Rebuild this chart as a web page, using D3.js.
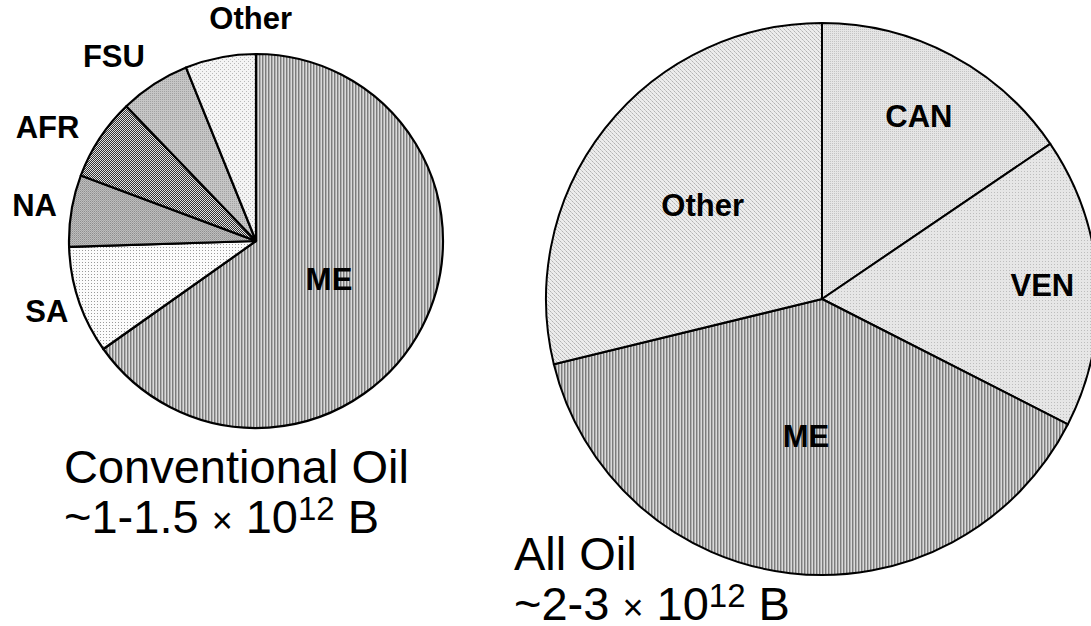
<!DOCTYPE html>
<html>
<head>
<meta charset="utf-8">
<script src="https://cdn.jsdelivr.net/npm/d3@7"></script>
<style>
  body { margin: 0; background: #fff; }
  svg { display: block; }
  .lbl { font-family: "Liberation Sans", Arial, sans-serif; font-weight: bold; font-size: 31px; fill: #000; }
  .title { font-family: "Liberation Sans", Arial, sans-serif; font-size: 47px; fill: #000; }
</style>
</head>
<body>
<div id="container"></div>
<script>
(function(){
// conventional oil reserves, share by region (%)
var convRegions = ["ME", "SA", "NA", "AFR", "FSU", "Other"];
var convShares = [65.2, 9.3, 6.2, 7.1, 6.1, 6.1];
var convTitle = ["Conventional Oil", "~1-1.5 ", "\u00d7", " 10", "12", " B"];

// all oil (incl. heavy oil / tar sands), share by region (%)
var allRegions = ["CAN", "VEN", "ME", "Other"];
var allShares = [15.5, 17.0, 38.7, 28.8];
var allTitle = ["All Oil", "~2-3 ", "\u00d7", " 10", "12", " B"];

var width = 1091, height = 626;

var svg = d3.select("#container")
    .append("svg")
    .attr("width", width)
    .attr("height", height);

svg.append("rect").attr("width", width).attr("height", height).attr("fill", "#fff");

//fill patterns, mimic the old office hatch fills
var defs = svg.append("defs");

function makePattern(id, w, h, bg, cells){
    var p = defs.append("pattern")
        .attr("id", id)
        .attr("patternUnits", "userSpaceOnUse")
        .attr("width", w)
        .attr("height", h);
    p.append("rect").attr("width", w).attr("height", h).attr("fill", bg);
    cells.forEach(function(c){
        p.append("rect")
            .attr("x", c[0]).attr("y", c[1])
            .attr("width", c[2]).attr("height", c[3])
            .attr("fill", c[4]);
    });
}

makePattern("stripes", 3, 3, "#dadada", [[0, 0, 1, 3, "#7c7c7c"], [1, 0, 1, 3, "#b0b0b0"]]);
makePattern("dotsLight", 3, 3, "#fbfbfb", [[0, 0, 1, 1, "#9a9a9a"]]);
makePattern("grayFine", 2, 2, "#bdbdbd", [[0, 0, 1, 1, "#8e8e8e"], [1, 1, 1, 1, "#a4a4a4"]]);
makePattern("checker", 2, 2, "#e2e2e2", [[0, 0, 1, 1, "#333"], [1, 1, 1, 1, "#333"]]);
makePattern("grayMid", 2, 2, "#c6c6c6", [[0, 0, 1, 1, "#a2a2a2"]]);
makePattern("diagLight", 4, 4, "#f4f4f4", [[0, 0, 1, 1, "#b8b8b8"], [2, 2, 1, 1, "#b8b8b8"]]);
makePattern("canFill", 2, 2, "#e6e6e6", [[0, 0, 1, 1, "#c4c4c4"]]);
makePattern("venFill", 3, 3, "#e6e6e6", [[1, 1, 1, 1, "#bdbdbd"]]);
makePattern("diagHatch", 4, 4, "#ececec", [[0, 0, 1, 1, "#b2b2b2"], [1, 1, 1, 1, "#c8c8c8"], [2, 2, 1, 1, "#b2b2b2"], [3, 3, 1, 1, "#c8c8c8"]]);

var convFills = d3.scaleOrdinal()
    .domain(convRegions)
    .range(["url(#stripes)", "url(#dotsLight)", "url(#grayFine)", "url(#checker)", "url(#grayMid)", "url(#diagLight)"]);

var allFills = d3.scaleOrdinal()
    .domain(allRegions)
    .range(["url(#canFill)", "url(#venFill)", "url(#stripes)", "url(#diagHatch)"]);

//function to draw one pie with its labels
function drawPie(regions, shares, fills, cx, cy, r, strokeW, labelK, nudge){
    var rows = regions.map(function(name, i){ return {name: name, value: shares[i]}; });

    var pie = d3.pie()
        .sort(null)
        .value(function(d){ return d.value; });

    var arc = d3.arc().innerRadius(0).outerRadius(r);

    var g = svg.append("g")
        .attr("transform", "translate(" + cx + "," + cy + ")");

    g.selectAll(".slice")
        .data(pie(rows))
        .enter()
        .append("path")
        .attr("class", "slice")
        .attr("d", arc)
        .attr("fill", function(d){ return fills(d.data.name); })
        .attr("stroke", "#000")
        .attr("stroke-width", strokeW)
        .attr("stroke-linejoin", "round");

    g.selectAll(".lbl")
        .data(pie(rows))
        .enter()
        .append("text")
        .attr("class", "lbl")
        .attr("text-anchor", "middle")
        .attr("dy", "0.36em")
        .attr("x", function(d){
            var a = (d.startAngle + d.endAngle) / 2;
            var n = nudge[d.data.name] || [0, 0];
            return Math.sin(a) * r * labelK[d.data.name] + n[0];
        })
        .attr("y", function(d){
            var a = (d.startAngle + d.endAngle) / 2;
            var n = nudge[d.data.name] || [0, 0];
            return -Math.cos(a) * r * labelK[d.data.name] + n[1];
        })
        .text(function(d){ return d.data.name; });
}

//title with superscript exponent
function drawTitle(parts, x, y, lineGap){
    svg.append("text")
        .attr("class", "title")
        .attr("x", x)
        .attr("y", y)
        .text(parts[0]);
    var t = svg.append("text")
        .attr("class", "title")
        .attr("x", x)
        .attr("y", y + lineGap);
    t.append("tspan").text(parts[1]);
    t.append("tspan").style("font-size", "36px").text(parts[2]);
    t.append("tspan").text(parts[3]);
    t.append("tspan").attr("dy", -13).style("font-size", "33px").text(parts[4]);
    t.append("tspan").attr("dy", 13).text(parts[5]);
}

drawPie(convRegions, convShares, convFills, 256, 241, 187, 2.2,
    {ME: 0.44, SA: 1.18, NA: 1.2, AFR: 1.27, FSU: 1.25, Other: 1.19},
    {AFR: [-10, 16], FSU: [-15, 11], Other: [37, -5]});

drawPie(allRegions, allShares, allFills, 822, 299, 276, 2,
    {CAN: 0.75, VEN: 0.8, ME: 0.5, Other: 0.55},
    {});

drawTitle(convTitle, 64, 483, 50);
drawTitle(allTitle, 514, 570, 50);
})();
</script>
</body>
</html>
